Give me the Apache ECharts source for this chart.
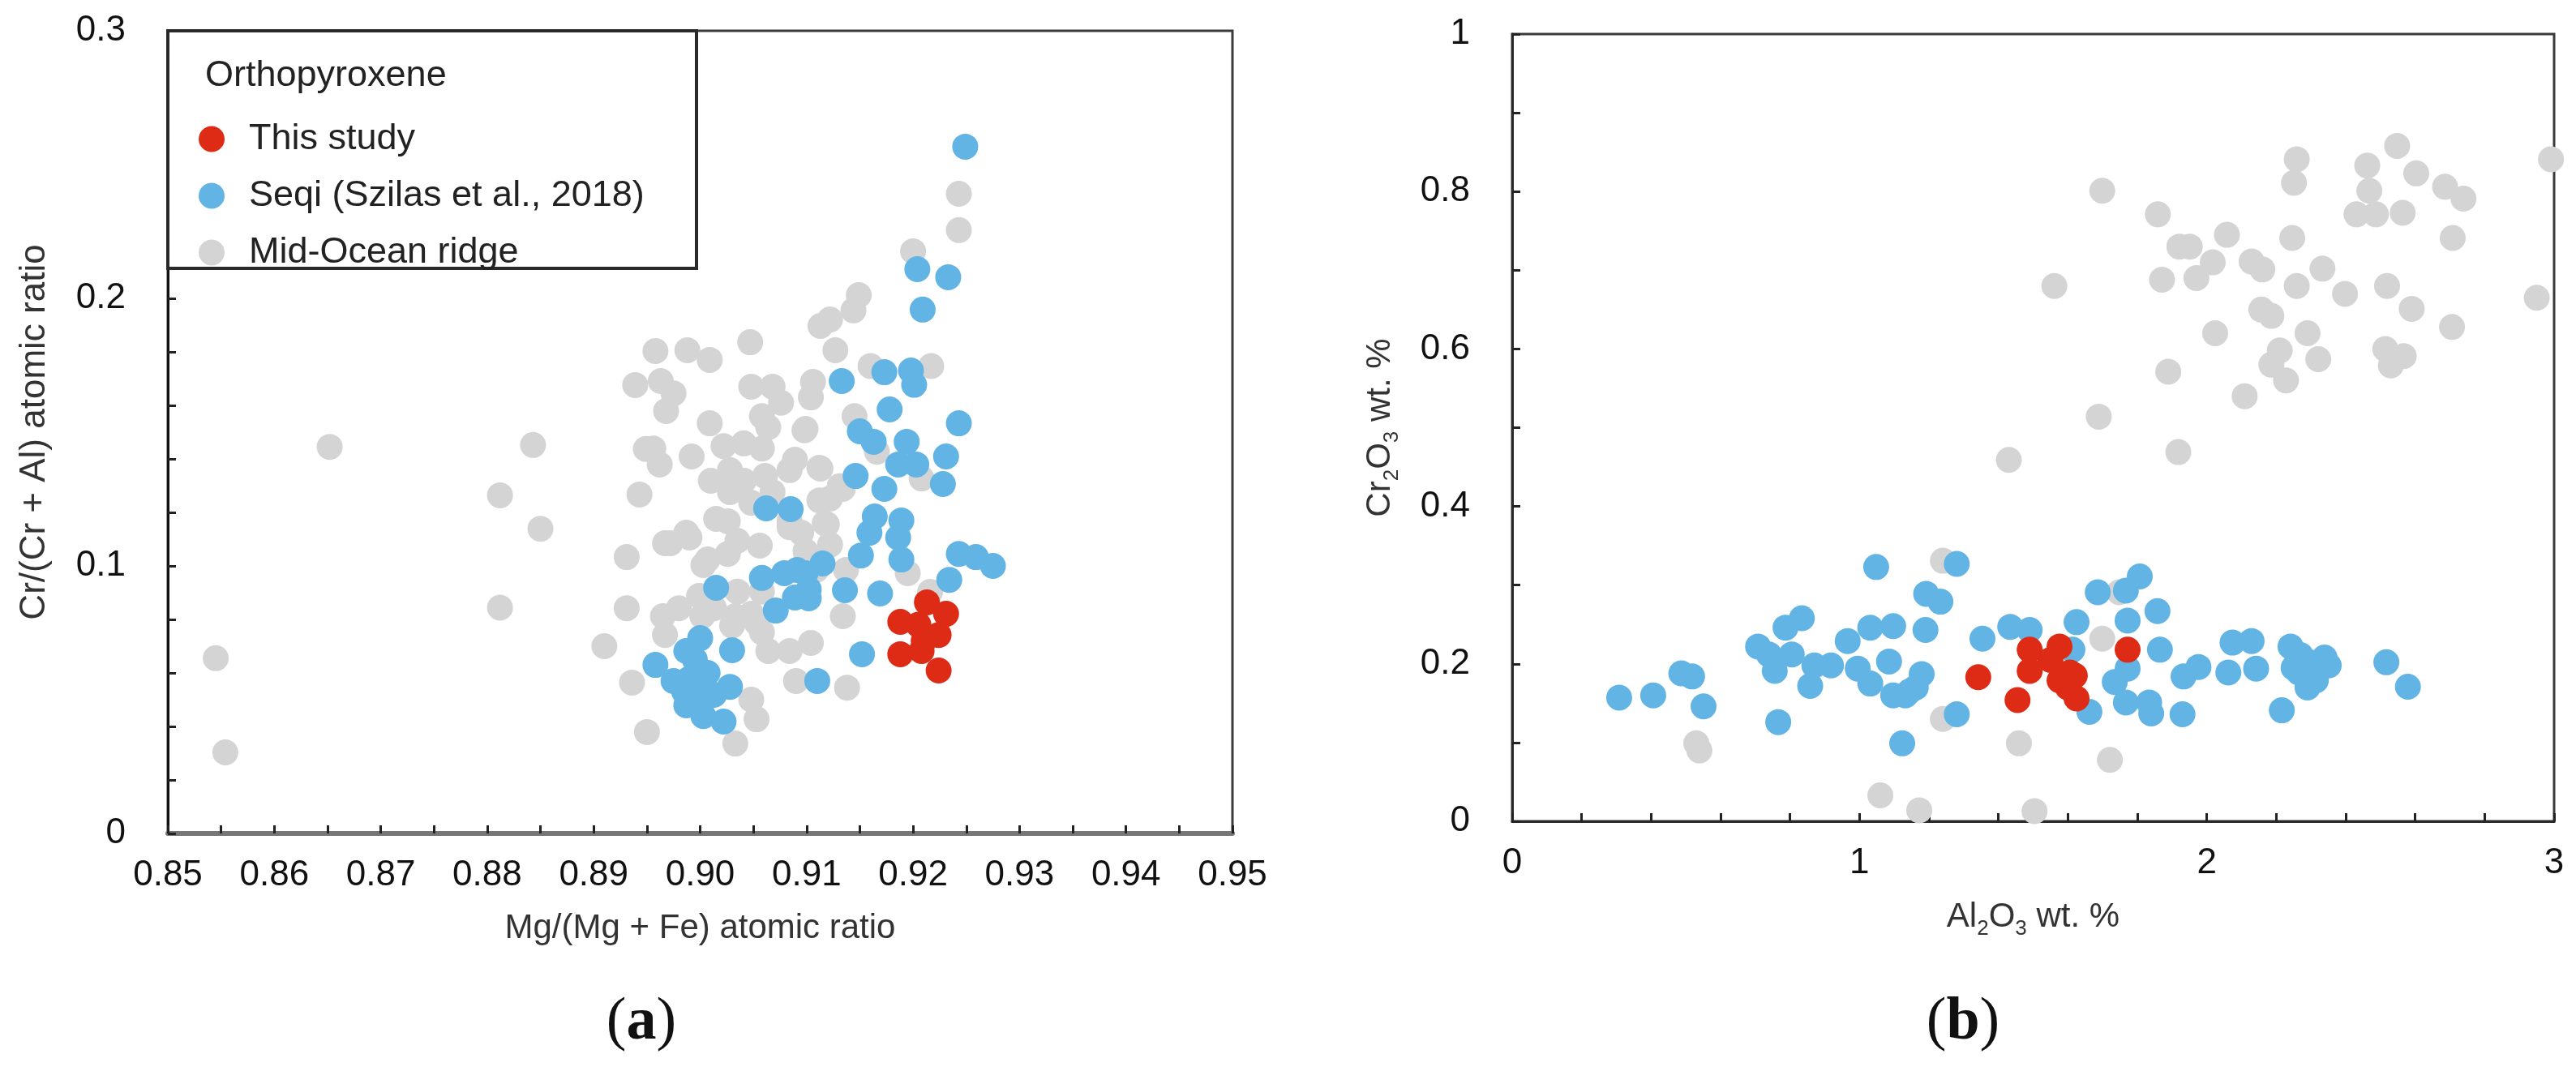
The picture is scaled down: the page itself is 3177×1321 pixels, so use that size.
<!DOCTYPE html>
<html>
<head>
<meta charset="utf-8">
<title>Orthopyroxene</title>
<script src="https://cdn.jsdelivr.net/npm/echarts@6/dist/echarts.min.js"></script>
<style>
html,body{margin:0;padding:0;background:#fff}
#main{width:3177px;height:1321px}
</style>
</head>
<body>
<div id="main"></div>
<script>
// (a) Mg/(Mg+Fe) vs Cr/(Cr+Al)
var studyA = [[0.9213,0.0864],[0.9231,0.0821],[0.9188,0.0791],[0.9224,0.0742],[0.9188,0.0670],[0.9208,0.0682],[0.9224,0.0609],[0.9205,0.0780],[0.9210,0.0720]];
var seqiA = [[0.9249,0.2567],[0.9204,0.2109],[0.9233,0.2079],[0.9209,0.1958],[0.9133,0.1691],[0.9173,0.1724],[0.9198,0.1730],[0.9201,0.1677],
  [0.9178,0.1585],[0.9150,0.1503],[0.9163,0.1464],[0.9243,0.1533],[0.9194,0.1464],[0.9231,0.1409],[0.9186,0.1379],[0.9203,0.1379],
  [0.9146,0.1336],[0.9228,0.1306],[0.9173,0.1288],[0.9062,0.1215],[0.9085,0.1212],[0.9164,0.1185],[0.9159,0.1124],[0.9151,0.1039],
  [0.9189,0.1170],[0.9186,0.1106],[0.9189,0.1024],[0.9243,0.1045],[0.9259,0.1033],[0.9275,0.1000],[0.9234,0.0948],[0.9115,0.1009],
  [0.9058,0.0955],[0.9079,0.0973],[0.9091,0.0985],[0.9071,0.0833],[0.9089,0.0882],[0.9102,0.0912],[0.9099,0.0973],[0.9102,0.0879],
  [0.9015,0.0918],[0.9136,0.0909],[0.9169,0.0897],[0.9030,0.0685],[0.9152,0.0670],[0.9110,0.0570],[0.8958,0.0630],
  [0.9000,0.0730],[0.8987,0.0682],[0.8975,0.0570],[0.8990,0.0579],[0.9007,0.0600],[0.9028,0.0548],[0.8987,0.0479],[0.9003,0.0439],
  [0.9022,0.0418],[0.9013,0.0518],[0.8995,0.0650],[0.9000,0.0520],[0.8985,0.0530]];
var morA = [[0.8652,0.1445],[0.8843,0.1452],[0.8812,0.1264],[0.8850,0.1139],[0.8931,0.1033],[0.8812,0.0844],[0.8931,0.0842],[0.8910,0.0700],
  [0.8936,0.0564],[0.8545,0.0655],[0.8554,0.0303],[0.8950,0.0379],[0.8949,0.1437],[0.8943,0.1267],
  [0.9243,0.2391],[0.9243,0.2255],[0.9200,0.2176],[0.9149,0.2012],[0.9144,0.1955],[0.9122,0.1921],[0.9113,0.1897],[0.9127,0.1806],
  [0.9047,0.1836],[0.8958,0.1803],[0.8988,0.1806],[0.9009,0.1770],[0.8939,0.1676],[0.8963,0.1691],[0.8975,0.1645],[0.8968,0.1579],
  [0.9048,0.1670],[0.9068,0.1670],[0.9076,0.1610],[0.9058,0.1560],[0.9064,0.1518],[0.9106,0.1688],[0.9104,0.1630],[0.9160,0.1747],
  [0.9217,0.1747],[0.9009,0.1533],[0.9099,0.1512],[0.9145,0.1560],[0.8956,0.1439],[0.8962,0.1379],[0.8992,0.1409],[0.9022,0.1448],
  [0.9041,0.1458],[0.9058,0.1439],[0.9010,0.1318],[0.9028,0.1358],[0.9041,0.1318],[0.9061,0.1336],[0.9084,0.1358],[0.9089,0.1397],
  [0.9028,0.1276],[0.9048,0.1236],[0.9068,0.1276],[0.9084,0.1167],[0.9015,0.1176],[0.9026,0.1167],[0.8972,0.1085],[0.8987,0.1124],
  [0.9035,0.1094],[0.9056,0.1076],[0.9007,0.1024],[0.8967,0.1085],[0.8990,0.1106],[0.9003,0.1003],[0.9026,0.1045],[0.9113,0.1364],
  [0.9131,0.1298],[0.9122,0.1252],[0.9117,0.1160],[0.9098,0.1507],[0.9095,0.1124],[0.9099,0.1055],[0.9109,0.0985],[0.9122,0.1079],
  [0.8965,0.0812],[0.8980,0.0842],[0.9013,0.0842],[0.9033,0.0812],[0.9048,0.0821],[0.9058,0.0752],[0.9064,0.0682],[0.9084,0.0682],
  [0.8967,0.0742],[0.9048,0.0500],[0.9053,0.0427],[0.9033,0.0336],[0.9090,0.0570],[0.9084,0.1145],[0.9195,0.0973],[0.9134,0.0812],
  [0.9104,0.0712],[0.9138,0.0545],[0.9119,0.1155],[0.9112,0.1245],[0.9112,0.1367],[0.9134,0.1288],[0.9208,0.1327],[0.9166,0.1427],
  [0.9137,0.0985],[0.9216,0.0903],[0.9035,0.0904],[0.8999,0.0888],[0.9058,0.0904],[0.9030,0.0777],[0.9053,0.0788],[0.9002,0.0812]];

// (b) Al2O3 vs Cr2O3 wt. %
var studyB = [[1.342,0.183],[1.455,0.154],[1.490,0.218],[1.490,0.191],[1.576,0.222],[1.606,0.189],[1.576,0.179],[1.625,0.156],
  [1.772,0.218],[1.550,0.205],[1.620,0.185],[1.600,0.170]];
var seqiB = [[0.308,0.157],[0.406,0.160],[0.487,0.188],[0.518,0.184],[0.551,0.146],[0.766,0.126],[0.708,0.222],[0.739,0.212],
  [0.756,0.191],[0.787,0.246],[0.834,0.258],[0.805,0.212],[0.858,0.172],[0.870,0.198],[0.918,0.198],[0.966,0.229],[1.031,0.246],
  [1.097,0.248],[1.048,0.323],[0.995,0.194],[1.031,0.175],[1.085,0.203],[1.097,0.160],[1.132,0.160],[1.179,0.187],[1.162,0.170],
  [1.123,0.099],[1.190,0.243],[1.192,0.289],[1.233,0.279],[1.280,0.327],[1.354,0.232],[1.434,0.247],[1.490,0.243],[1.144,0.165],
  [1.280,0.136],[1.625,0.253],[1.686,0.291],[1.767,0.293],[1.807,0.311],[1.772,0.255],[1.858,0.267],[1.865,0.218],[1.613,0.218],
  [1.662,0.139],[1.735,0.177],[1.772,0.194],[1.767,0.151],[1.834,0.151],[1.840,0.137],[1.930,0.136],[1.933,0.184],[1.976,0.196],
  [2.062,0.189],[2.074,0.227],[2.129,0.229],[2.142,0.194],[2.216,0.141],[2.241,0.222],[2.290,0.203],[2.339,0.208],[2.351,0.198],
  [2.265,0.189],[2.290,0.170],[2.314,0.179],[2.517,0.202],[2.579,0.171],[2.250,0.195],[2.300,0.185],[2.270,0.211]];
var morB = [[2.259,0.841],[2.251,0.811],[2.462,0.833],[2.548,0.858],[2.603,0.823],[2.468,0.801],[2.431,0.771],[2.487,0.771],
  [2.564,0.773],[2.686,0.806],[2.739,0.791],[2.991,0.841],[2.708,0.741],[1.699,0.801],[1.859,0.771],[1.921,0.730],[1.951,0.730],
  [2.058,0.745],[2.246,0.741],[2.017,0.710],[1.970,0.690],[1.871,0.688],[2.129,0.711],[2.160,0.701],[2.333,0.702],[2.259,0.680],
  [2.398,0.670],[2.519,0.680],[2.950,0.665],[1.561,0.680],[2.157,0.650],[2.186,0.642],[2.590,0.651],[2.706,0.628],[2.024,0.620],
  [2.290,0.620],[2.210,0.598],[2.186,0.580],[2.228,0.560],[2.321,0.587],[2.514,0.600],[2.567,0.591],[2.530,0.579],[1.889,0.571],
  [2.109,0.540],[1.689,0.514],[1.430,0.459],[1.918,0.469],
  [0.530,0.099],[0.539,0.090],[1.060,0.033],[1.172,0.014],[1.240,0.331],[1.240,0.130],[1.459,0.099],[1.721,0.078],[1.504,0.013],
  [1.699,0.232],[1.748,0.291]];

var legendNames = ['This study', 'Seqi (Szilas et al., 2018)', 'Mid-Ocean ridge'];
var RED = '#DD2B16', BLUE = '#62B4E4', GREY = '#D4D4D4';
var FONT = 'Liberation Sans, Arial, sans-serif';

function dots(name, data, color, idx) {
  return {
    name: name, type: 'scatter', xAxisIndex: idx, yAxisIndex: idx,
    data: data, symbolSize: 32, silent: true,
    itemStyle: {color: color, opacity: 1}
  };
}

// only label every n-th tick
function isStep(v, step) {
  var k = v / step;
  return Math.abs(k - Math.round(k)) < 1e-6;
}

var tick = {inside: true, length: 10, lineStyle: {color: '#222', width: 3}};
var subRich = {
  n: {fontSize: 42, fontFamily: FONT, color: '#333', lineHeight: 56, verticalAlign: 'middle'},
  s: {fontSize: 26, fontFamily: FONT, color: '#333', lineHeight: 56, verticalAlign: 'bottom'}
};

var myChart = echarts.init(document.getElementById('main'));
var option = {
  animation: false,
  backgroundColor: '#fff',
  grid: [
    {left: 207, top: 38, width: 1313, height: 990, show: true, borderColor: '#3a3a3a', borderWidth: 3, outerBoundsMode: 'none'},
    {left: 1865, top: 42, width: 1285, height: 971, show: true, borderColor: '#3a3a3a', borderWidth: 3, outerBoundsMode: 'none'}
  ],
  xAxis: [
    {
      gridIndex: 0, type: 'value', min: 0.85, max: 0.95, interval: 0.005,
      name: 'Mg/(Mg + Fe) atomic ratio', nameLocation: 'middle', nameGap: 96,
      nameTextStyle: {fontSize: 42, fontFamily: FONT, color: '#333'},
      axisLine: {lineStyle: {color: '#777', width: 6}},
      axisTick: tick, splitLine: {show: false},
      axisLabel: {
        margin: 30, color: '#111', fontSize: 44, fontFamily: FONT,
        formatter: function (v) { return isStep(v, 0.01) ? v.toFixed(2) : ''; }
      }
    },
    {
      gridIndex: 1, type: 'value', min: 0, max: 3, interval: 0.2,
      name: '{n|Al}{s|2}{n|O}{s|3}{n| wt. %}', nameLocation: 'middle', nameGap: 90,
      nameTextStyle: {rich: subRich},
      axisLine: {lineStyle: {color: '#2a2a2a', width: 3}},
      axisTick: tick, splitLine: {show: false},
      axisLabel: {
        margin: 30, color: '#111', fontSize: 44, fontFamily: FONT,
        formatter: function (v) { return isStep(v, 1) ? String(Math.round(v)) : ''; }
      }
    }
  ],
  yAxis: [
    {
      gridIndex: 0, type: 'value', min: 0, max: 0.3, interval: 0.02,
      name: 'Cr/(Cr + Al) atomic ratio', nameLocation: 'middle', nameGap: 142,
      nameTextStyle: {fontSize: 44, fontFamily: FONT, color: '#333'},
      axisLine: {lineStyle: {color: '#111', width: 3}},
      axisTick: tick, splitLine: {show: false},
      axisLabel: {
        margin: 52, color: '#111', fontSize: 44, fontFamily: FONT,
        formatter: function (v) { return isStep(v, 0.1) ? (v === 0 ? '0' : v.toFixed(1)) : ''; }
      }
    },
    {
      gridIndex: 1, type: 'value', min: 0, max: 1, interval: 0.1,
      name: '{n|Cr}{s|2}{n|O}{s|3}{n| wt. %}', nameLocation: 'middle', nameGap: 135,
      nameTextStyle: {rich: subRich},
      axisLine: {lineStyle: {color: '#2a2a2a', width: 3}},
      axisTick: tick, splitLine: {show: false},
      axisLabel: {
        margin: 52, color: '#111', fontSize: 44, fontFamily: FONT,
        formatter: function (v) {
          if (!isStep(v, 0.2)) return '';
          return (v === 0 || v === 1) ? String(v) : v.toFixed(1);
        }
      }
    }
  ],
  legend: {
    data: legendNames, orient: 'vertical', left: 245, top: 149, padding: 0,
    itemWidth: 82, itemHeight: 32, itemGap: 25, icon: 'circle', selectedMode: false,
    textStyle: {fontSize: 45, fontFamily: FONT, color: '#222', lineHeight: 32},
    z: 6
  },
  graphic: [
    // legend frame + heading
    {type: 'rect', z: 5, shape: {x: 207, y: 38, width: 652, height: 293},
      style: {fill: '#fff', stroke: '#2a2a2a', lineWidth: 4}},
    {type: 'text', z: 6, x: 253, y: 94,
      style: {text: 'Orthopyroxene', fontSize: 45, fontFamily: FONT, fill: '#222', verticalAlign: 'middle'}},
    // panel letters
    {type: 'text', z: 6, x: 791, y: 1262,
      style: {text: '{p|(}{b|a}{p|)}', align: 'center', verticalAlign: 'middle',
        rich: {p: {fontSize: 74, fontFamily: 'Liberation Serif', fill: '#111'},
               b: {fontSize: 74, fontFamily: 'Liberation Serif', fontWeight: 'bold', fill: '#111'}}}},
    {type: 'text', z: 6, x: 2421, y: 1262,
      style: {text: '{p|(}{b|b}{p|)}', align: 'center', verticalAlign: 'middle',
        rich: {p: {fontSize: 74, fontFamily: 'Liberation Serif', fill: '#111'},
               b: {fontSize: 74, fontFamily: 'Liberation Serif', fontWeight: 'bold', fill: '#111'}}}}
  ],
  series: [
    dots('Mid-Ocean ridge', morA, GREY, 0),
    dots('Seqi (Szilas et al., 2018)', seqiA, BLUE, 0),
    dots('This study', studyA, RED, 0),
    dots('Mid-Ocean ridge', morB, GREY, 1),
    dots('Seqi (Szilas et al., 2018)', seqiB, BLUE, 1),
    dots('This study', studyB, RED, 1)
  ]
};
myChart.setOption(option);
</script>
</body>
</html>
